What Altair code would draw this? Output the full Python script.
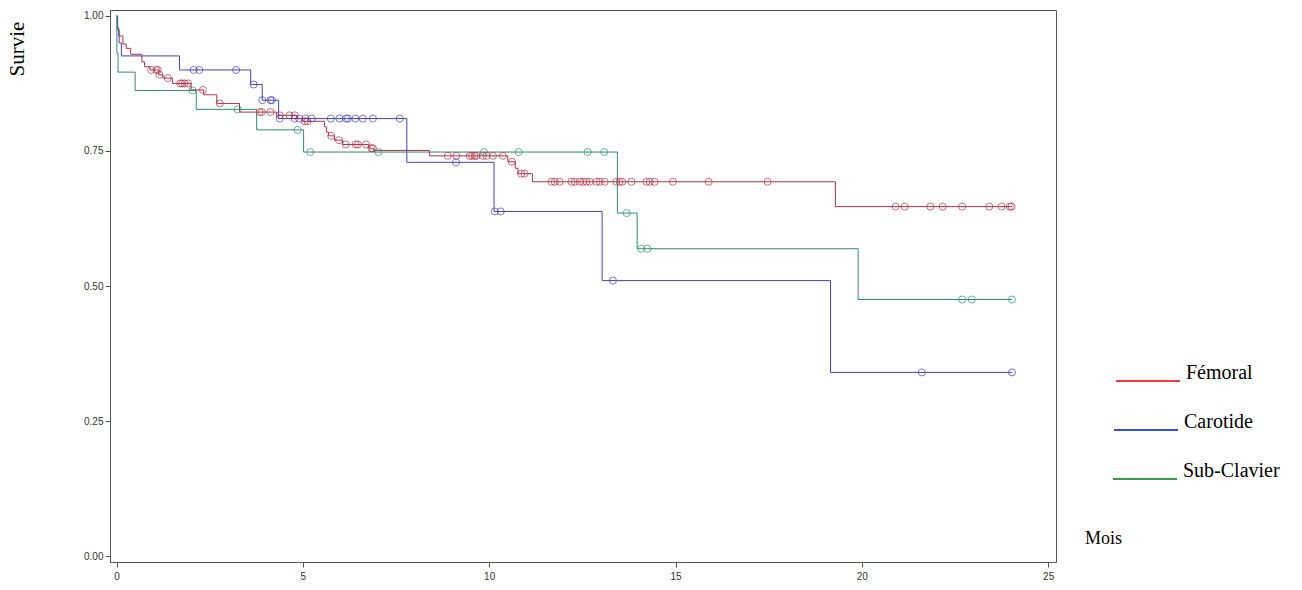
import altair as alt
import pandas as pd

# Survival groups
groups = ["Fémoral", "Carotide", "Sub-Clavier"]

# Kaplan-Meier steps: time of each event (months) and survival after it
femoral_t = [0.00, 0.02, 0.06, 0.17, 0.26, 0.38, 0.68, 0.75, 0.90, 1.13, 1.25, 1.50,
             2.00, 2.34, 2.69, 3.30, 4.29, 4.83, 5.00, 5.58, 5.63, 5.69, 5.85, 6.07,
             6.77, 6.90, 8.40, 10.50, 10.70, 10.77, 11.16, 19.29]
femoral_s = [1.000, 0.978, 0.963, 0.948, 0.940, 0.929, 0.915, 0.906, 0.900, 0.891, 0.885, 0.875,
             0.863, 0.854, 0.838, 0.822, 0.816, 0.810, 0.805, 0.795, 0.785, 0.778, 0.770, 0.762,
             0.755, 0.751, 0.741, 0.730, 0.718, 0.708, 0.693, 0.647]
femoral_cens = [0.93, 1.07, 1.11, 1.15, 1.38, 1.71, 1.76, 1.83, 1.92, 2.32, 2.77, 3.84, 3.90,
                4.13, 4.38, 4.64, 4.78, 4.90, 5.05, 5.12, 5.76, 5.97, 6.15, 6.42, 6.48, 6.70,
                6.84, 6.88, 8.89, 9.12, 9.48, 9.54, 9.61, 9.66, 9.83, 9.93, 10.10, 10.37,
                10.61, 10.86, 10.95, 11.67, 11.76, 11.89, 12.21, 12.30, 12.43, 12.52, 12.61,
                12.70, 12.88, 12.97, 13.10, 13.41, 13.50, 13.57, 13.82, 14.22, 14.31, 14.44,
                14.93, 15.89, 17.47, 20.91, 21.15, 21.84, 22.17, 22.69, 23.42, 23.75, 23.97,
                24.02]

carotide_t = [0.00, 0.03, 0.07, 0.13, 1.69, 3.60, 3.91, 4.35, 7.79, 10.13, 13.03, 19.16]
carotide_s = [1.000, 0.974, 0.950, 0.926, 0.900, 0.873, 0.844, 0.810, 0.729, 0.638, 0.510, 0.340]
carotide_cens = [2.07, 2.22, 3.21, 3.68, 3.91, 4.13, 4.17, 4.38, 4.78, 5.07, 5.24, 5.75, 5.98,
                 6.16, 6.21, 6.41, 6.61, 6.88, 7.60, 9.11, 10.15, 10.31, 13.32, 21.61, 24.03]

subclav_t = [0.00, 0.01, 0.04, 0.50, 2.14, 3.76, 5.02, 13.44, 13.97, 19.90]
subclav_s = [1.000, 0.931, 0.896, 0.862, 0.827, 0.789, 0.748, 0.635, 0.569, 0.475]
subclav_cens = [2.04, 3.25, 4.86, 5.20, 7.03, 9.86, 10.79, 12.64, 13.09, 13.69, 14.08, 14.25,
                22.69, 22.95, 24.03]

follow_up_end = 24.03

x_ticks = [0, 5, 10, 15, 20, 25]
y_ticks = [0.0, 0.25, 0.50, 0.75, 1.0]

line_colors = ["#b03346", "#4242b8", "#2f8a72"]
legend_colors = ["#f03c3c", "#3c4cf0", "#3c9a48"]

series = [
    (groups[0], femoral_t, femoral_s, femoral_cens),
    (groups[1], carotide_t, carotide_s, carotide_cens),
    (groups[2], subclav_t, subclav_s, subclav_cens),
]

step_rows, cens_rows = [], []
for name, ts, ss, cs in series:
    for t, s in zip(ts, ss):
        step_rows.append({"groupe": name, "mois": t, "survie": s})
    step_rows.append({"groupe": name, "mois": follow_up_end, "survie": ss[-1]})
    for c in cs:
        level = [s for t, s in zip(ts, ss) if t <= c][-1]
        cens_rows.append({"groupe": name, "mois": c, "survie": level})

steps = pd.DataFrame(step_rows)
cens = pd.DataFrame(cens_rows)

x_scale = alt.Scale(domain=[-0.175, 25.21], nice=False, zero=False)
y_scale = alt.Scale(domain=[-0.011, 1.011], nice=False, zero=False)
color_scale = alt.Scale(domain=groups, range=line_colors)

x_axis = alt.Axis(values=x_ticks, format="d", title=None, grid=False, tickSize=5,
                  labelPadding=4, labelFontSize=10, labelColor="#333",
                  labelFont="Liberation Sans", domainColor="#555", tickColor="#555")
y_axis = alt.Axis(values=y_ticks, format=".2f", title=None, grid=False, tickSize=5,
                  labelPadding=2, labelFontSize=10, labelColor="#333",
                  labelFont="Liberation Sans", domainColor="#555", tickColor="#555")

curves = alt.Chart(steps).mark_line(interpolate="step-after", strokeWidth=1).encode(
    x=alt.X("mois:Q", scale=x_scale, axis=x_axis),
    y=alt.Y("survie:Q", scale=y_scale, axis=y_axis),
    color=alt.Color("groupe:N", scale=color_scale, legend=None),
    detail="groupe:N",
)

marks = alt.Chart(cens).mark_point(shape="circle", filled=False, size=50, strokeWidth=1).encode(
    x=alt.X("mois:Q", scale=x_scale),
    y=alt.Y("survie:Q", scale=y_scale),
    color=alt.Color("groupe:N", scale=color_scale, legend=None),
)

layers = [curves, marks]

# Axis captions
layers.append(alt.Chart().mark_text(text="Survie", angle=270, font="Liberation Serif",
                                    fontSize=21, color="black").encode(
    x=alt.value(-92), y=alt.value(39)))
layers.append(alt.Chart().mark_text(text="Mois", align="left", font="Liberation Serif",
                                    fontSize=18, color="black").encode(
    x=alt.value(975), y=alt.value(529)))

# Hand-drawn legend: a coloured stroke with its label just above-right
legend_left = [1006, 1004, 1003]
legend_y = [371, 420, 469]
for i, name in enumerate(groups):
    layers.append(alt.Chart().mark_rule(strokeWidth=2, color=legend_colors[i]).encode(
        x=alt.value(legend_left[i]), x2=alt.value(legend_left[i] + 64),
        y=alt.value(legend_y[i])))
    layers.append(alt.Chart().mark_text(text=name, align="left", baseline="alphabetic",
                                        font="Liberation Serif", fontSize=20,
                                        color="black").encode(
        x=alt.value(legend_left[i] + 70), y=alt.value(legend_y[i] - 2)))

chart = alt.layer(*layers).properties(
    width=946,
    height=552,
    autosize=alt.AutoSizeParams(type="none"),
    padding={"left": 110, "top": 10, "right": 246, "bottom": 28},
    background="white",
).configure_view(stroke="#555", strokeWidth=1)

chart.save("out.html", embed_options={"renderer": "svg", "actions": False})
